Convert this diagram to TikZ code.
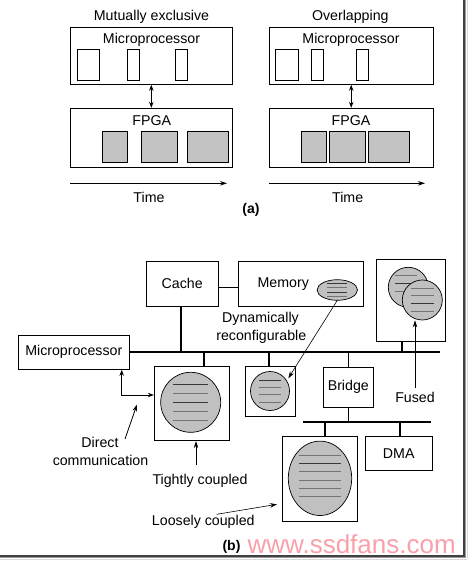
\documentclass[tikz,border=0pt]{standalone}
\usepackage{fontspec}
\setmainfont{Liberation Sans}
\usetikzlibrary{arrows.meta,shapes.geometric}
\definecolor{boxgray}{RGB}{195,195,195}
\definecolor{blobgray}{RGB}{192,192,192}
\definecolor{lineDark}{RGB}{55,55,55}
\definecolor{lineLight}{RGB}{115,115,115}
\definecolor{wmpink}{RGB}{250,160,170}
\begin{document}
\begin{tikzpicture}[x=1pt,y=-1pt,
  font=\fontsize{14.2}{16}\selectfont,
  box/.style={draw, line width=0.9pt, inner sep=0pt, fill=white},
  slot/.style={draw, line width=0.9pt, inner sep=0pt},
  gslot/.style={slot, fill=boxgray},
  lbl/.style={inner sep=0pt},
  arr/.style={line width=0.8pt, -{Stealth[length=7pt,width=4.5pt]}},
  darr/.style={line width=0.9pt, {Stealth[length=6pt,width=4.5pt]}-{Stealth[length=6pt,width=4.5pt]}},
  bus/.style={line width=2pt},
  stub/.style={line width=1.6pt},
  blob/.style={draw, fill=blobgray, line width=0.7pt, inner sep=0pt, circle},
  oval/.style={draw, fill=blobgray, line width=0.7pt, inner sep=0pt, ellipse},
  hl/.style={line width=1pt}
]
\useasboundingbox (0,0) rectangle (467,562);
\fill[white] (0,0) rectangle (467,562);

% ---------- frame shadow ----------
\draw[line width=2pt, black!75] (463.5,0) -- (463.5,555.5);
\draw[line width=1.5pt, black!40] (465.5,0) -- (465.5,557.5);
\draw[line width=1pt, black!15] (467,0) -- (467,559);
\draw[line width=2pt, black!75] (0,555.5) -- (464.5,555.5);
\draw[line width=1.5pt, black!40] (0,557.5) -- (466.3,557.5);
\draw[line width=1pt, black!15] (0,559.2) -- (467,559.2);

% ================= (a) left =================
\node[lbl] (tL) at (151.5,17) {Mutually exclusive};
\node[box, minimum width=162pt, minimum height=56.6pt] (mpL) at (151.3,56) {};
\node[lbl] (mptL) at (151.5,40) {Microprocessor};
\node[slot, minimum width=22pt, minimum height=31.4pt] (wL1) at (88,65) {};
\node[slot, minimum width=12.3pt, minimum height=31.4pt] (wL2) at (133.2,65) {};
\node[slot, minimum width=12pt, minimum height=31.4pt] (wL3) at (181.7,65) {};
\node[box, minimum width=162pt, minimum height=59.4pt] (fpL) at (151.3,138) {};
\node[lbl] (fptL) at (151.7,120.7) {FPGA};
\node[gslot, minimum width=25pt, minimum height=31.7pt] (gL1) at (114.8,146.8) {};
\node[gslot, minimum width=36pt, minimum height=31.7pt] (gL2) at (159.3,146.8) {};
\node[gslot, minimum width=41pt, minimum height=31.7pt] (gL3) at (208.2,146.8) {};
\draw[darr] (mpL.south) -- (fpL.north);
\coordinate (tmL0) at (70.3,183.3);
\coordinate (tmL1) at (227,183.3);
\draw[arr, line width=1pt] (tmL0) -- (tmL1);
\node[lbl] (timeL) at (149,197.3) {Time};

% ================= (a) right =================
\node[lbl] (tR) at (350.3,17) {Overlapping};
\node[box, minimum width=163.7pt, minimum height=56.6pt] (mpR) at (351.2,56) {};
\node[lbl] (mptR) at (351,40) {Microprocessor};
\node[slot, minimum width=22.6pt, minimum height=31.4pt] (wR1) at (287,65) {};
\node[slot, minimum width=11.6pt, minimum height=31.4pt] (wR2) at (317.5,65) {};
\node[slot, minimum width=12pt, minimum height=31.4pt] (wR3) at (362.7,65) {};
\node[box, minimum width=163.7pt, minimum height=59.4pt] (fpR) at (351.2,138) {};
\node[lbl] (fptR) at (351,120.7) {FPGA};
\node[gslot, minimum width=25.7pt, minimum height=31.7pt] (gR1) at (313.8,146.8) {};
\node[gslot, minimum width=36pt, minimum height=31.7pt] (gR2) at (347,146.8) {};
\node[gslot, minimum width=41pt, minimum height=31.7pt] (gR3) at (388.8,146.8) {};
\draw[darr] (mpR.south) -- (fpR.north);
\coordinate (tmR0) at (269.3,183.3);
\coordinate (tmR1) at (425,183.3);
\draw[arr, line width=1pt] (tmR0) -- (tmR1);
\node[lbl] (timeR) at (347.7,197.3) {Time};
\node[lbl, font=\fontsize{14}{16}\selectfont\bfseries] (capA) at (251,210) {(a)};

% ================= (b) =================
\coordinate (busR) at (440,352);
\node[box, minimum width=72.3pt, minimum height=45.7pt] (cache) at (182.2,283.8) {Cache};
\node[box, minimum width=125pt, minimum height=44.3pt] (mem) at (300.8,283.8) {};
\node[lbl] (memt) at (283.3,284.3) {Memory};
\node[box, minimum width=111pt, minimum height=34.3pt] (mpB) at (73.8,352.2) {Microprocessor};
\node[box, minimum width=75pt, minimum height=74.7pt] (tc) at (191.8,403.3) {};
\node[box, minimum width=49.6pt, minimum height=50pt] (dr) at (270.5,391) {};
\node[box, minimum width=68.6pt, minimum height=81.7pt] (fu) at (411,300.2) {};
\node[box, minimum width=50pt, minimum height=40pt] (br) at (348.3,387.3) {Bridge};
\node[box, minimum width=75.4pt, minimum height=85.7pt] (lc) at (320,478.8) {};
\node[box, minimum width=67.3pt, minimum height=34.7pt] (dma) at (398.7,453.3) {DMA};

% buses and stubs
\draw[line width=1.4pt] (cache.east |- 0,287.3) -- (mem.west |- 0,287.3);
\draw[bus] (mpB.east |- busR) -- (busR);
\draw[stub] (cache.south -| 180.7,0) -- (180.7,352);
\coordinate (s1) at (204,352);
\draw[stub] (s1) -- (s1 |- tc.north);
\draw[stub] (dr.north -| 269,0) -- (269,352);
\coordinate (s2) at (402,352);
\draw[stub] (s2) -- (s2 |- fu.south);
\draw[stub] (br.north) -- (br.north |- busR);
\coordinate (b2L) at (303.3,421.7);
\coordinate (b2R) at (431,421.7);
\draw[bus] (b2L) -- (b2R);
\draw[stub] (br.south) -- (br.south |- b2L);
\coordinate (s3) at (325,421.7);
\draw[stub] (s3) -- (s3 |- lc.north);
\coordinate (s4) at (400,421.7);
\draw[stub] (s4) -- (s4 |- dma.north);

% blobs
\node[blob, minimum size=60pt] (tcb) at (190.7,402.3) {};
\foreach \dy/\c in {-17.5/lineDark,-8.5/lineLight,0.5/lineDark,9.5/lineLight,18.5/lineLight}
  \draw[hl,\c] ([shift={(-17.5,\dy)}]tcb.center) -- ++(35,0);

\node[blob, minimum size=39pt] (drb) at (270,391) {};
\foreach \dy/\c in {-11/lineDark,-4/lineLight,3.3/lineLight,11/lineLight}
  \draw[hl,\c] ([shift={(-11.2,\dy)}]drb.center) -- ++(22.4,0);

\node[oval, minimum width=40.4pt, minimum height=20.6pt] (meb) at (337.3,290) {};
\foreach \dy/\c in {-6.5/lineDark,-2.2/lineLight,2.2/lineDark,6.5/lineLight}
  \draw[line width=0.9pt,\c] ([shift={(-10,\dy)}]meb.center) -- ++(20,0);

\node[blob, minimum size=40pt] (fub1) at (408.3,287.3) {};
\foreach \dy/\c in {-12/lineLight,-3.7/lineDark,4.6/lineLight}
  \draw[hl,\c] ([shift={(-13,\dy)}]fub1.center) -- ++(22,0);
\node[blob, minimum size=40pt] (fub2) at (422.3,300) {};
\foreach \dy/\c in {-11.7/lineLight,-5/lineLight,3.3/lineDark,11.7/lineLight}
  \draw[hl,\c] ([shift={(-11.8,\dy)}]fub2.center) -- ++(23.6,0);

\node[oval, minimum width=63.4pt, minimum height=74.4pt] (lcb) at (320,478.3) {};
\foreach \yy/\c in {455/lineLight,463.3/lineDark,471.7/lineLight,480/lineLight,488.3/lineLight,496.7/lineLight}
  \draw[hl,\c] (299,\yy) -- (341,\yy);

% direct communication connector
\coordinate (dc) at (121.7,395);
\draw[line width=0.9pt, {Stealth[length=6pt,width=4.5pt]}-{Stealth[length=6pt,width=4.5pt]}]
  (dc |- mpB.south) -- (dc) -- (dc -| tc.west);

% labels in (b)
\node[lbl] (dyn1) at (260.5,319.3) {Dynamically};
\node[lbl] (dyn2) at (261.3,337.3) {reconfigurable};
\node[lbl] (fusedt) at (415,397.7) {Fused};
\node[lbl] (dct1) at (100,442.7) {Direct};
\node[lbl] (dct2) at (100.5,460) {communication};
\node[lbl] (tct) at (200,480.7) {Tightly coupled};
\node[lbl] (lct) at (203.3,522.3) {Loosely coupled};
\node[lbl, font=\fontsize{14}{16}\selectfont\bfseries] (capB) at (231.5,546.5) {(b)};
\node[lbl, text=wmpink, font=\fontsize{26}{28}\selectfont] (wm) at (351.7,544) {www.ssdfans.com};

% pointer arrows
\coordinate (ma0) at (337.3,300.3);
\coordinate (ma1) at (288.3,378.3);
\draw[arr, line width=0.6pt] (ma0) -- (ma1);
\coordinate (fa0) at (415,388);
\draw[arr] (fa0) -- (fa0 |- fub2.south);
\coordinate (da0) at (125,439);
\coordinate (da1) at (137,404.5);
\draw[arr] (da0) -- (da1);
\coordinate (ta0) at (196,465);
\draw[arr] (ta0) -- (ta0 |- tc.south);
\coordinate (la0) at (216.7,514.3);
\coordinate (la1) at (277,504.3);
\draw[arr, line width=0.6pt] (la0) -- (la1);
\end{tikzpicture}
\end{document}
